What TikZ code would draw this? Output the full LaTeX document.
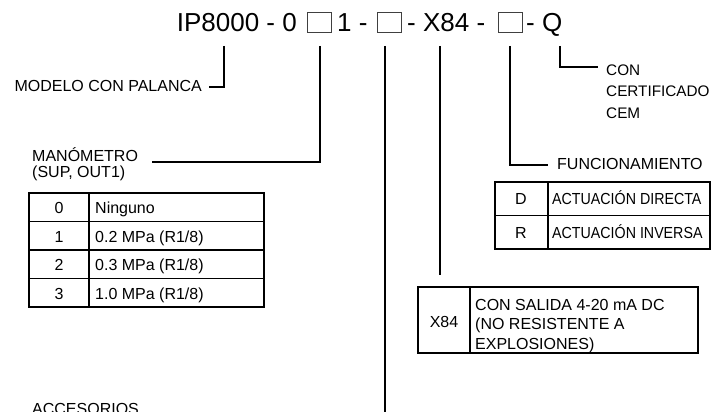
\documentclass[tikz,border=0pt]{standalone}
\usepackage{fontspec}
\setmainfont{Liberation Sans}
\newfontfamily\condfont{Liberation Sans}[FakeStretch=0.89]
\begin{document}
\begin{tikzpicture}[x=1pt,y=-1pt,
  lbl/.style={inner sep=0pt, font=\fontsize{16}{19}\selectfont},
  lbls/.style={inner sep=0pt, font=\fontsize{15.3}{19}\selectfont},
  cond/.style={inner sep=0pt, font=\fontsize{16}{19}\condfont},
  big/.style={inner sep=0pt, font=\fontsize{26}{30}\selectfont},
  lead/.style={line width=1.3pt},
  tab/.style={line width=1.7pt},
  slot/.style={draw=black!75, line width=0.9pt, inner sep=0pt, minimum width=24pt, minimum height=20pt}
]
\useasboundingbox (0,0) rectangle (712,412);
\clip (0,0) rectangle (712,412);

% code line
\node[big, anchor=base east] (t1) at (297,32) {IP8000 - 0};
\node[slot] (b1) at (319,22) {};
\node[big, anchor=base west] (t2) at (337,32) {1 -};
\node[slot] (b2) at (389,22) {};
\node[big, anchor=base west] (t3) at (407,32) {- X84 -};
\node[slot] (b3) at (510,22) {};
\node[big, anchor=base west] (t4) at (526,32) {- Q};

% labels
\node[lbl, anchor=base east] (modelo) at (202,92) {MODELO CON PALANCA};
\node[lbl, anchor=base west] (mano) at (32,161) {MANÓMETRO};
\node[lbl, anchor=base west] (mano2) at (32,177) {(SUP, OUT1)};
\node[lbl, anchor=base west] (func) at (557,169) {FUNCIONAMIENTO};
\node[lbls, anchor=base west] (cem1) at (606,75) {CON};
\node[lbls, anchor=base west] (cem2) at (606,96.5) {CERTIFICADO};
\node[lbls, anchor=base west] (cem3) at (606,118) {CEM};
\node[lbl, anchor=base west] (acc) at (32,414.5) {ACCESORIOS};

% leader coordinates
\coordinate (s0) at (224,46);
\coordinate (e0) at (209,87);
\coordinate (s1) at (320,46);
\coordinate (e1) at (152,162);
\coordinate (s2) at (385,46);
\coordinate (e2) at (385,412);
\coordinate (s3) at (440,46);
\coordinate (e3) at (440,275);
\coordinate (s4) at (510,46);
\coordinate (e4) at (548,165);
\coordinate (s5) at (560,46);
\coordinate (e5) at (598,67);

\draw[lead] (s0) |- (e0);
\draw[lead] (s1) |- (e1);
\draw[lead] (s2) -- (e2);
\draw[lead] (s3) -- (e3);
\draw[lead] (s4) |- (e4);
\draw[lead] (s5) |- (e5);

% manometro table
\draw[tab] (29,193) rectangle (264,307);
\draw[tab] (89,193) -- (89,307);
\foreach \yy in {221.5,250,278.5} \draw[tab] (29,\yy) -- (264,\yy);
\node[lbl, anchor=base] (m0) at (59,213.5) {0};
\node[lbl, anchor=base west] (n0) at (95,213.5) {Ninguno};
\node[lbl, anchor=base] (m1) at (59,242) {1};
\node[lbl, anchor=base west] (n1) at (95,242) {0.2 MPa (R1/8)};
\node[lbl, anchor=base] (m2) at (59,270.5) {2};
\node[lbl, anchor=base west] (n2) at (95,270.5) {0.3 MPa (R1/8)};
\node[lbl, anchor=base] (m3) at (59,299) {3};
\node[lbl, anchor=base west] (n3) at (95,299) {1.0 MPa (R1/8)};

% funcionamiento table
\draw[tab] (495,182) rectangle (710,249);
\draw[tab] (548,182) -- (548,249);
\draw[tab] (495,215.5) -- (710,215.5);
\node[lbl, anchor=base] (fd) at (521,204.5) {D};
\node[cond, anchor=base west] (fdt) at (552,204.5) {ACTUACIÓN DIRECTA};
\node[lbl, anchor=base] (fr) at (521,238) {R};
\node[cond, anchor=base west] (frt) at (552,238) {ACTUACIÓN INVERSA};

% X84 table
\draw[tab] (418,287) rectangle (698,353);
\draw[tab] (470,287) -- (470,353);
\node[lbl, anchor=base] (xk) at (444,327) {X84};
\node[lbl, anchor=base west] (x1) at (475,310) {CON SALIDA 4-20 mA DC};
\node[lbl, anchor=base west] (x2) at (475,329.5) {(NO RESISTENTE A};
\node[lbl, anchor=base west] (x3) at (475,349) {EXPLOSIONES)};
\end{tikzpicture}
\end{document}
